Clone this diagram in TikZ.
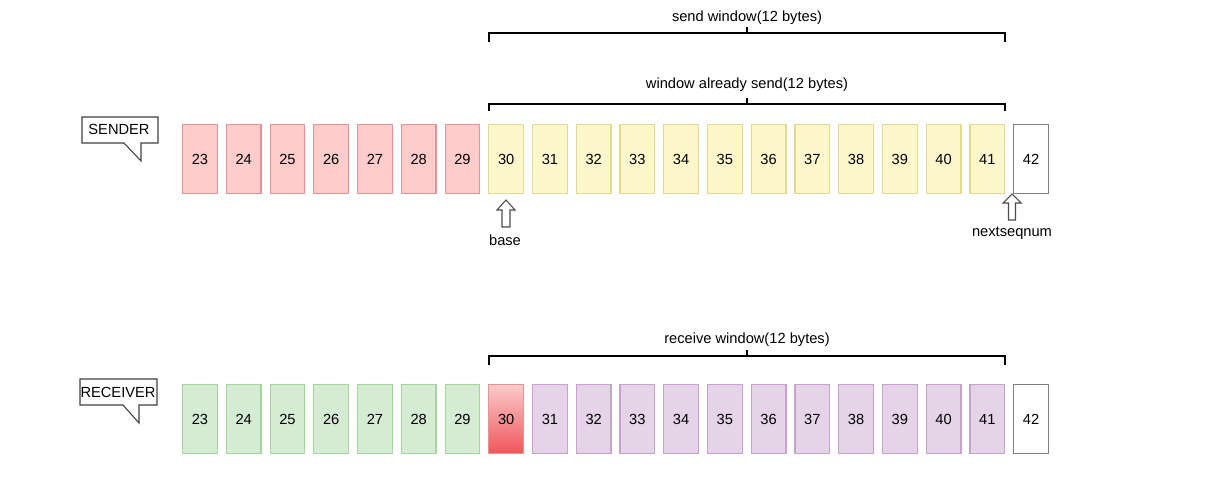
\documentclass[tikz,border=0pt]{standalone}
\usepackage{fontspec}
\setmainfont{Liberation Sans}
\usetikzlibrary{positioning}

\definecolor{redfill}{HTML}{FFCCCC}
\definecolor{reddraw}{HTML}{E49396}
\definecolor{yelfill}{HTML}{FFF7CC}
\definecolor{yeldraw}{HTML}{E6D88E}
\definecolor{grnfill}{HTML}{D5EBD4}
\definecolor{grndraw}{HTML}{A3D69B}
\definecolor{purfill}{HTML}{E5D3E8}
\definecolor{purdraw}{HTML}{C6A2CD}
\definecolor{gradtop}{HTML}{FBCACA}
\definecolor{gradbot}{HTML}{F0565A}

\tikzset{
  seqbox/.style={draw, line width=0.9pt, minimum width=26pt, minimum height=52pt, inner sep=0pt},
  emptybox/.style={seqbox, draw=gray, fill=white, line width=1pt},
  bracket/.style={draw=black, line width=1pt},
  callout/.style={draw=black!75, fill=white, line width=0.8pt},
  blockarrow/.style={draw=black!70, fill=white, line width=0.8pt}
}

\begin{document}
\begin{tikzpicture}[x=0.75pt, y=-0.75pt, font=\fontsize{11}{13}\selectfont]
  \useasboundingbox (0,0) rectangle (1222,502);

  % Sender row
  \foreach \n in {23,...,29}
    \node[seqbox, fill=redfill, draw=reddraw] (s\n) at ({200+43.74*(\n-23)},159) {\n};
  \foreach \n in {30,...,41}
    \node[seqbox, fill=yelfill, draw=yeldraw] (s\n) at ({200+43.74*(\n-23)},159) {\n};
  \node[emptybox] (s42) at ({200+43.74*19},159) {42};

  % Receiver row
  \foreach \n in {23,...,29}
    \node[seqbox, fill=grnfill, draw=grndraw] (r\n) at ({200+43.74*(\n-23)},419) {\n};
  \node[seqbox, top color=gradtop, bottom color=gradbot, draw=reddraw] (r30) at ({200+43.74*7},419) {30};
  \foreach \n in {31,...,41}
    \node[seqbox, fill=purfill, draw=purdraw] (r\n) at ({200+43.74*(\n-23)},419) {\n};
  \node[emptybox] (r42) at ({200+43.74*19},419) {42};

  % Brackets
  \node (sendwin) at (747,18) {send window(12 bytes)};
  \draw[bracket] (489,42) -- (489,33) -- (1005,33) -- (1005,42);
  \draw[bracket] (747,33) -- (747,27);

  \node (already) at (747,85) {window already send(12 bytes)};
  \draw[bracket] (489,111) -- (489,104) -- (1005,104) -- (1005,111);
  \draw[bracket] (747,104) -- (747,98);

  \node (recvwin) at (747,340) {receive window(12 bytes)};
  \draw[bracket] (489,365) -- (489,356) -- (1005,356) -- (1005,365);
  \draw[bracket] (747,356) -- (747,350);

  % Callouts
  \draw[callout] (82,117) -- (158,117) -- (158,143) -- (141,143) -- (141,161) -- (124,143) -- (82,143) -- cycle;
  \node (sender) at (119,129.5) {SENDER};
  \draw[callout] (80,379) -- (157,379) -- (157,405) -- (139,405) -- (139,423) -- (123,405) -- (80,405) -- cycle;
  \node (receiver) at (118,392.5) {RECEIVER};

  % Pointers
  \draw[blockarrow] (506,200) -- (515,210) -- (510,210) -- (510,227) -- (502,227) -- (502,210) -- (497,210) -- cycle;
  \node (base) at (505,240) {base};
  \draw[blockarrow] (1012,194) -- (1021,203) -- (1015.5,203) -- (1015.5,220) -- (1008.5,220) -- (1008.5,203) -- (1003,203) -- cycle;
  \node (nextseq) at (1012,233) {nextseqnum};
\end{tikzpicture}
\end{document}
